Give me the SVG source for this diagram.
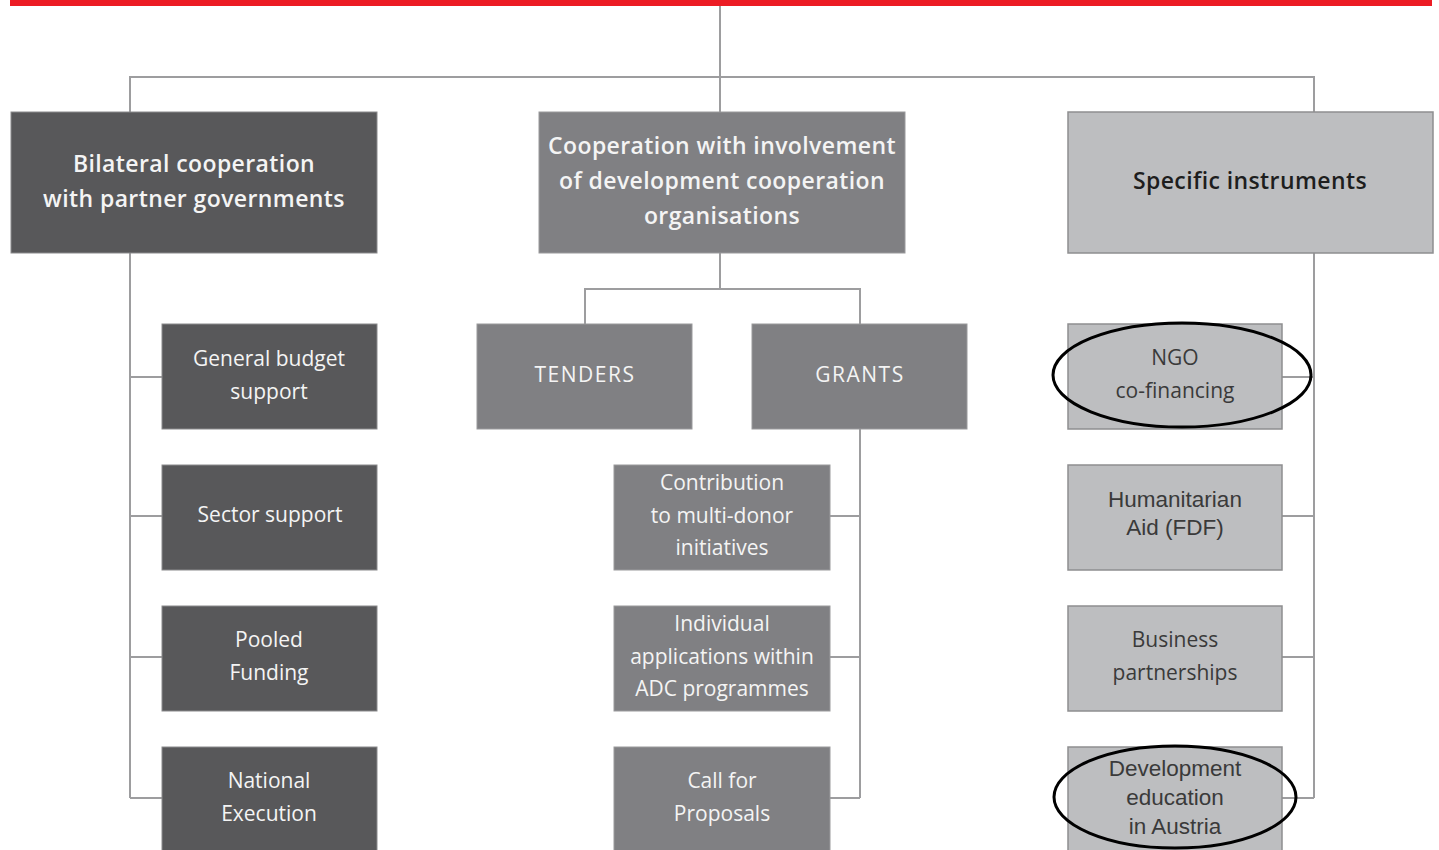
<svg xmlns="http://www.w3.org/2000/svg" width="1439" height="850" viewBox="0 0 1439 850">
<style>
.dark{fill:#58585a;stroke:#8a8a8c;stroke-width:1}
.mid{fill:#808083;stroke:#9a9a9c;stroke-width:1}
.light{fill:#bdbec0;stroke:#8e8e90;stroke-width:1.5}
.conn{fill:none;stroke:#9d9d9f;stroke-width:2}
.h{font-family:"Open Sans","DejaVu Sans",sans-serif;font-weight:600;font-size:23px;text-anchor:middle;letter-spacing:0.4px}
.s{font-family:"Open Sans","DejaVu Sans",sans-serif;font-size:21px;text-anchor:middle}
.a{font-family:"Liberation Sans",Arial,sans-serif;font-size:22.5px;text-anchor:middle}
.w{fill:#f4f4f4}
.k{fill:#3a3a3a}
.kh{fill:#1e1e1e}
.caps{letter-spacing:1.5px}
.ring{fill:none;stroke:#000;stroke-width:3}
</style>
<rect x="10" y="0" width="1422" height="6" fill="#ec1c24"/>
<g id="connectors">
<path class="conn" d="M720 6V77M130 112V77H1314V112M720 77V112"/>
<path class="conn" d="M130 253V798M130 377H162M130 516H162M130 657H162M130 798H162"/>
<path class="conn" d="M720 253V289M585 324V289H860V324"/>
<path class="conn" d="M860 429V798M830 516H860M830 657H860M830 798H860"/>
<path class="conn" d="M1314 253V798M1282 377H1314M1282 516H1314M1282 657H1314M1282 798H1314"/>
</g>
<g id="bilateral"><rect class="dark" x="11" y="112" width="366" height="141"/>
<text class="h w" x="194" y="172">Bilateral cooperation</text><text class="h w" x="194" y="207">with partner governments</text></g>
<g id="cooperation"><rect class="mid" x="539" y="112" width="366" height="141"/>
<text class="h w" x="722" y="154">Cooperation with involvement</text><text class="h w" x="722" y="189">of development cooperation</text><text class="h w" x="722" y="224">organisations</text></g>
<g id="specific"><rect class="light" x="1068" y="112" width="365" height="141"/>
<text class="h kh" x="1250" y="189">Specific instruments</text></g>
<g id="gbs"><rect class="dark" x="162" y="324" width="215" height="105"/>
<text class="s w" x="269" y="366">General budget</text><text class="s w" x="269" y="399">support</text></g>
<g id="sector"><rect class="dark" x="162" y="465" width="215" height="105"/>
<text class="s w" x="270" y="522">Sector support</text></g>
<g id="pooled"><rect class="dark" x="162" y="606" width="215" height="105"/>
<text class="s w" x="269" y="647">Pooled</text><text class="s w" x="269" y="680">Funding</text></g>
<g id="national"><rect class="dark" x="162" y="747" width="215" height="110"/>
<text class="s w" x="269" y="788">National</text><text class="s w" x="269" y="821">Execution</text></g>
<g id="tenders"><rect class="mid" x="477" y="324" width="215" height="105"/>
<text class="s w caps" x="585" y="382">TENDERS</text></g>
<g id="grants"><rect class="mid" x="752" y="324" width="215" height="105"/>
<text class="s w caps" x="860" y="382">GRANTS</text></g>
<g id="multidonor"><rect class="mid" x="614" y="465" width="216" height="105"/>
<text class="s w" x="722" y="490">Contribution</text><text class="s w" x="722" y="523">to multi-donor</text><text class="s w" x="722" y="555">initiatives</text></g>
<g id="individual"><rect class="mid" x="614" y="606" width="216" height="105"/>
<text class="s w" x="722" y="631">Individual</text><text class="s w" x="722" y="664">applications within</text><text class="s w" x="722" y="696">ADC programmes</text></g>
<g id="call"><rect class="mid" x="614" y="747" width="216" height="110"/>
<text class="s w" x="722" y="788">Call for</text><text class="s w" x="722" y="821">Proposals</text></g>
<g id="ngo"><rect class="light" x="1068" y="324" width="214" height="105"/>
<text class="s k" x="1175" y="365">NGO</text><text class="s k" x="1175" y="398">co-financing</text>
<ellipse class="ring" cx="1182" cy="375" rx="129" ry="52"/></g>
<g id="humanitarian"><rect class="light" x="1068" y="465" width="214" height="105"/>
<text class="a k" x="1175" y="507">Humanitarian</text><text class="a k" x="1175" y="535">Aid (FDF)</text></g>
<g id="business"><rect class="light" x="1068" y="606" width="214" height="105"/>
<text class="s k" x="1175" y="647">Business</text><text class="s k" x="1175" y="680">partnerships</text></g>
<g id="deveducation"><rect class="light" x="1068" y="747" width="214" height="110"/>
<text class="a k" x="1175" y="776">Development</text><text class="a k" x="1175" y="805">education</text><text class="a k" x="1175" y="834">in Austria</text>
<ellipse class="ring" cx="1175" cy="797" rx="121" ry="51"/></g>
</svg>
